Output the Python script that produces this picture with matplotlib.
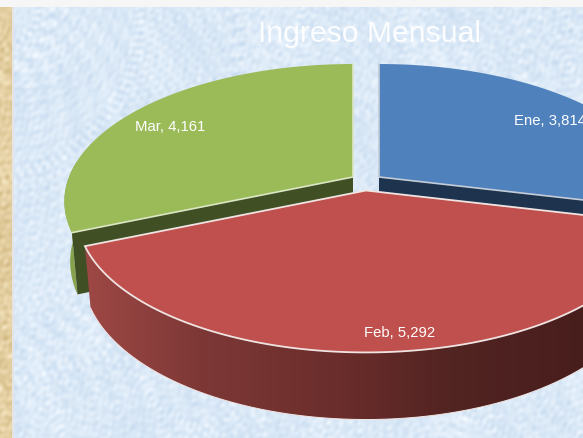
import numpy as np
import matplotlib
matplotlib.use('Agg')
import matplotlib.pyplot as plt
from matplotlib.patches import Polygon

plt.rcParams['font.family'] = ['Liberation Sans', 'DejaVu Sans']

# datos
meses = ['Ene', 'Feb', 'Mar']
ingresos = [3814, 5292, 4161]
etiquetas = ['Ene, 3,814', 'Feb, 5,292', 'Mar, 4,161']
titulo = 'Ingreso Mensual'

# perspectiva de la tarta
a, b, k = 133.1, 284.0, -0.178
prof, sx, sy = 59.0, 0.98, 1.05

fig = plt.figure(figsize=(5.83, 4.38), dpi=100)
ax = fig.add_axes([0, 0, 1, 1])
ax.axis('off')


def arriba(centro, t):
    x = np.sin(t)
    y = -np.cos(t)
    w = 1 + k * y
    return centro[0] + b * x / w, centro[1] + a * y / w


def abajo(centro, t):
    x, y = arriba(centro, t)
    return centro[0] + sx * (x - centro[0]), centro[1] + sy * (y - centro[1]) + prof


def poligono(xs, ys, **kw):
    p = Polygon(np.column_stack([xs, ys]), closed=True, **kw)
    ax.add_patch(p)
    return p


# fondo: textura azul fina, muchas ondas en direcciones distintas
yy, xx = np.mgrid[0:438, 0:583]
ruido = np.zeros(xx.shape)
for i in range(90):
    ang = i * 2.39996
    frec = 0.22 + 0.85 * ((i * 0.618034) % 1)
    ruido += np.sin(frec * (np.cos(ang) * xx + np.sin(ang) * yy) + i * 1.37)
for i in range(12):
    ang = i * 1.7
    ruido += 1.2 * np.sin((0.03 + 0.008 * i) * (np.cos(ang) * xx + np.sin(ang) * yy) + i * 0.9)
ruido /= ruido.std()
azul = np.array([219, 233, 247]) / 255
fondo = azul[None, None, :] + ruido[:, :, None] * np.array([0.022, 0.015, 0.008])
ax.imshow(np.clip(fondo, 0, 1), extent=(0, 583, 438, 0), aspect='auto', zorder=0, interpolation='bilinear')

# franja crema a la izquierda y banda blanca arriba
franja = np.array([227, 206, 160]) / 255 + ruido[:, :12, None] * np.array([0.02, 0.025, 0.035])
ax.imshow(np.clip(franja, 0, 1), extent=(0, 12, 438, 0), aspect='auto', zorder=1)
ax.fill_between([12, 14], 0, 438, color='#e4e4e6', lw=0, zorder=1)
ax.fill_between([0, 583], 0, 7, color='#f6f6f6', lw=0, zorder=1)

# angulos de cada sector desde las 12, en sentido horario
fin = np.cumsum(ingresos) / np.sum(ingresos) * 2 * np.pi
ini = np.r_[0, fin[:-1]]
centros = [(379, 177), (366, 190.5), (353, 177)]
colores = ['#4f81bd', '#c0504d', '#9bbb59']
oscuros = ['#1e334e', '#632e2c', '#404f24']
bordes = ['#c4ccd8', '#efe4e2', '#dbe6c4']

# Ene
c = centros[0]
t = np.array([fin[0]])
x1, y1 = arriba(c, t)
x2, y2 = abajo(c, t)
poligono([c[0], x1[0], x2[0], c[0]], [c[1], y1[0], y2[0], c[1] + prof], fc=oscuros[0], ec='none', zorder=2)
t = np.linspace(ini[0], fin[0], 120)
x1, y1 = arriba(c, t)
poligono(np.r_[c[0], x1], np.r_[c[1], y1], fc=colores[0], ec='none', zorder=3)
ax.plot([x1[0], c[0], x1[-1]], [y1[0], c[1], y1[-1]], color=bordes[0], lw=1.2, zorder=3)

# Mar: lado exterior, cara interior y tapa
c = centros[2]
t = np.linspace(ini[2], ini[2] + np.radians(30), 40)
x1, y1 = arriba(c, t)
x2, y2 = abajo(c, t)
poligono(np.r_[x1, x2[::-1]], np.r_[y1, y2[::-1]], fc='#86a24c', ec='none', zorder=4)
x1, y1 = arriba(c, np.array([ini[2]]))
x2, y2 = abajo(c, np.array([ini[2]]))
poligono([c[0], x1[0], x2[0], c[0]], [c[1], y1[0], y2[0], c[1] + prof], fc=oscuros[2], ec='none', zorder=5)
t = np.linspace(ini[2], fin[2], 120)
x1, y1 = arriba(c, t)
poligono(np.r_[c[0], x1], np.r_[c[1], y1], fc=colores[2], ec='none', zorder=6)
ax.plot([x1[0], c[0], x1[-1]], [y1[0], c[1], y1[-1]], color=bordes[2], lw=1.2, zorder=6)

# Feb: lado con degradado y tapa
c = centros[1]
t = np.linspace(ini[1], fin[1], 160)
x1, y1 = arriba(c, t)
x2, y2 = abajo(c, t)
lado = poligono(np.r_[x1, x2[::-1]], np.r_[y1, y2[::-1]], fc='none', ec='none', zorder=7)
paradas_x = [85, 200, 340, 450, 583]
paradas_r = [158, 125, 106, 82, 72]
paradas_g = [72, 56, 45, 36, 30]
paradas_b = [69, 54, 43, 34, 29]
gx = np.arange(0, 583)
grad = np.stack([np.interp(gx, paradas_x, paradas_r),
                 np.interp(gx, paradas_x, paradas_g),
                 np.interp(gx, paradas_x, paradas_b)], axis=1)[None, :, :] / 255
im = ax.imshow(grad, extent=(0, 583, 438, 0), aspect='auto', zorder=7)
im.set_clip_path(lado)
ax.plot(x2, y2, color='#f0e6e4', lw=0.7, zorder=8)
poligono(np.r_[c[0], x1], np.r_[c[1], y1], fc=colores[1], ec=bordes[1], lw=1.3, zorder=9)

ax.set_xlim(0, 583)
ax.set_ylim(438, 0)

# textos
ax.text(370, 34, titulo, color='white', alpha=0.92, fontsize=21.7, ha='center', va='center', zorder=10)
ax.text(514, 121, etiquetas[0], color='white', fontsize=10.7, ha='left', va='center', zorder=10)
ax.text(400, 333, etiquetas[1], color='white', fontsize=10.7, ha='center', va='center', zorder=10)
ax.text(170, 127, etiquetas[2], color='white', fontsize=10.7, ha='center', va='center', zorder=10)

fig.savefig('out.png', dpi=100)
